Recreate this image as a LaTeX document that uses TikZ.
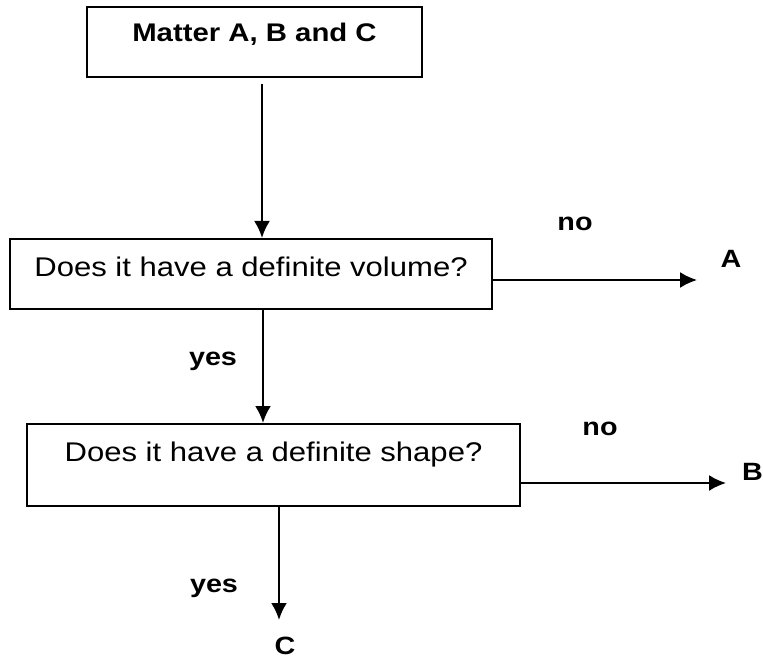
\documentclass[tikz,border=0pt]{standalone}
\usepackage{fontspec}
\setmainfont{Liberation Sans}[FakeStretch=1.15]
\usetikzlibrary{positioning,arrows.meta}

\begin{document}
\begin{tikzpicture}[x=1pt,y=-1pt,>={Latex[length=17pt,width=16pt]},
        box/.style={draw=black,line width=2pt,inner sep=0pt,align=center,font=\fontsize{27}{31}\selectfont},
        lbl/.style={inner sep=0pt,font=\bfseries\fontsize{25}{29}\selectfont},
        arr/.style={->,line width=2.4pt}]
        \useasboundingbox (0,0) rectangle (763,660);
        \node[box,font=\bfseries\fontsize{25.5}{29}\selectfont,minimum width=335pt,minimum height=70pt,text height=19pt,text depth=19pt] (matter) at (254.5,42) {Matter A, B and C};
        \node[box,minimum width=482pt,minimum height=70pt,text height=20pt,text depth=14pt] (vol) at (251,274) {Does it have a definite volume?};
        \node[box,minimum width=493pt,minimum height=82pt,text height=20pt,text depth=28pt] (shp) at (273.5,465) {Does it have a definite shape?};
        \node[lbl] (noA) at (575,224) {no};
        \node[lbl] (resA) at (731,259) {A};
        \node[lbl] (yesV) at (213,361) {yes};
        \node[lbl] (noB) at (600,429) {no};
        \node[lbl,anchor=west] (resB) at (742,472) {B};
        \node[lbl] (yesS) at (214,588) {yes};
        \node[lbl] (resC) at (285,645.5) {C};
        \coordinate (endA) at (697,280);
        \coordinate (endB) at (726,483);
        \coordinate (endC) at (279,620);
        \draw[arr] ([xshift=7.5pt,yshift=-6pt]matter.south) -- ([xshift=7.5pt]matter.south |- vol.north);
        \draw[arr] ([xshift=12pt]vol.south) -- ([xshift=12pt]vol.south |- shp.north);
        \draw[arr] ([xshift=5.5pt]shp.south) -- (endC);
        \draw[arr,line width=2pt] ([yshift=-6pt]vol.east) -- (endA);
        \draw[arr,line width=2pt] ([yshift=-18pt]shp.east) -- (endB);
      \end{tikzpicture}
\end{document}
